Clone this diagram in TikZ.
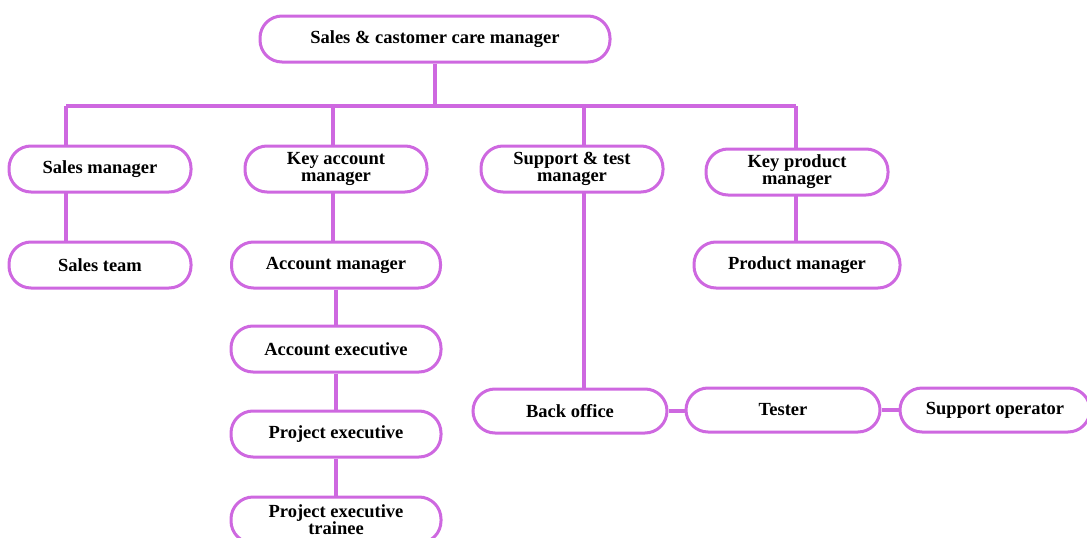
\documentclass[tikz,border=0pt]{standalone}
\usepackage{fontspec}
\setmainfont{Liberation Serif}
\usetikzlibrary{backgrounds}
\definecolor{orgpurple}{RGB}{206,104,224}
\tikzset{
  box/.style={draw=orgpurple, line width=3pt, fill=white, rounded corners=22pt,
    minimum height=46pt, inner sep=0pt, align=center,
    font=\fontsize{18.5}{17}\selectfont\bfseries},
  link/.style={draw=orgpurple, line width=4pt}
}
\begin{document}
\begin{tikzpicture}[x=1pt,y=-1pt]
\useasboundingbox (0,0) rectangle (1087,538);
\node[box, minimum width=350pt] (top) at (435,39) {Sales \& castomer care manager};
\node[box, minimum width=182pt] (sm) at (100,169) {Sales manager};
\node[box, minimum width=182pt] (kam) at (336,169) {Key account\\manager};
\node[box, minimum width=182pt] (stm) at (572,169) {Support \& test\\manager};
\node[box, minimum width=182pt] (kpm) at (797,172) {Key product\\manager};
\node[box, minimum width=182pt] (st) at (100,265) {Sales team};
\node[box, minimum width=209pt] (am) at (336,265) {Account manager};
\node[box, minimum width=210pt] (ae) at (336,349) {Account executive};
\node[box, minimum width=210pt] (pe) at (336,434) {Project executive};
\node[box, minimum width=210pt] (pet) at (336,520) {Project executive\\trainee};
\node[box, minimum width=206pt] (pm) at (797,265) {Product manager};
\node[box, minimum width=194pt, minimum height=44pt] (bo) at (570,411) {Back office};
\node[box, minimum width=194pt, minimum height=44pt] (te) at (783,410) {Tester};
\node[box, minimum width=190pt, minimum height=44pt] (so) at (995,410) {Support operator};
\coordinate (b1) at (66,106);
\coordinate (b2) at (333,106);
\coordinate (b3) at (584,106);
\coordinate (b4) at (796,106);
\begin{scope}[on background layer]
\draw[link] (top.south) -- (top.south |- b1);
\draw[link] (b1) -- (b4);
\draw[link] (b1) -- (b1 |- st.north);
\draw[link] (b2) -- (b2 |- am.north);
\draw[link] (b3) -- (b3 |- bo.north);
\draw[link] (b4) -- (b4 |- pm.north);
\draw[link] (am.south) -- (ae.north);
\draw[link] (ae.south) -- (pe.north);
\draw[link] (pe.south) -- (pet.north);
\draw[link] (bo.east) -- (te.west |- bo.east);
\draw[link] (te.east) -- (so.west);
\end{scope}
\end{tikzpicture}
\end{document}
